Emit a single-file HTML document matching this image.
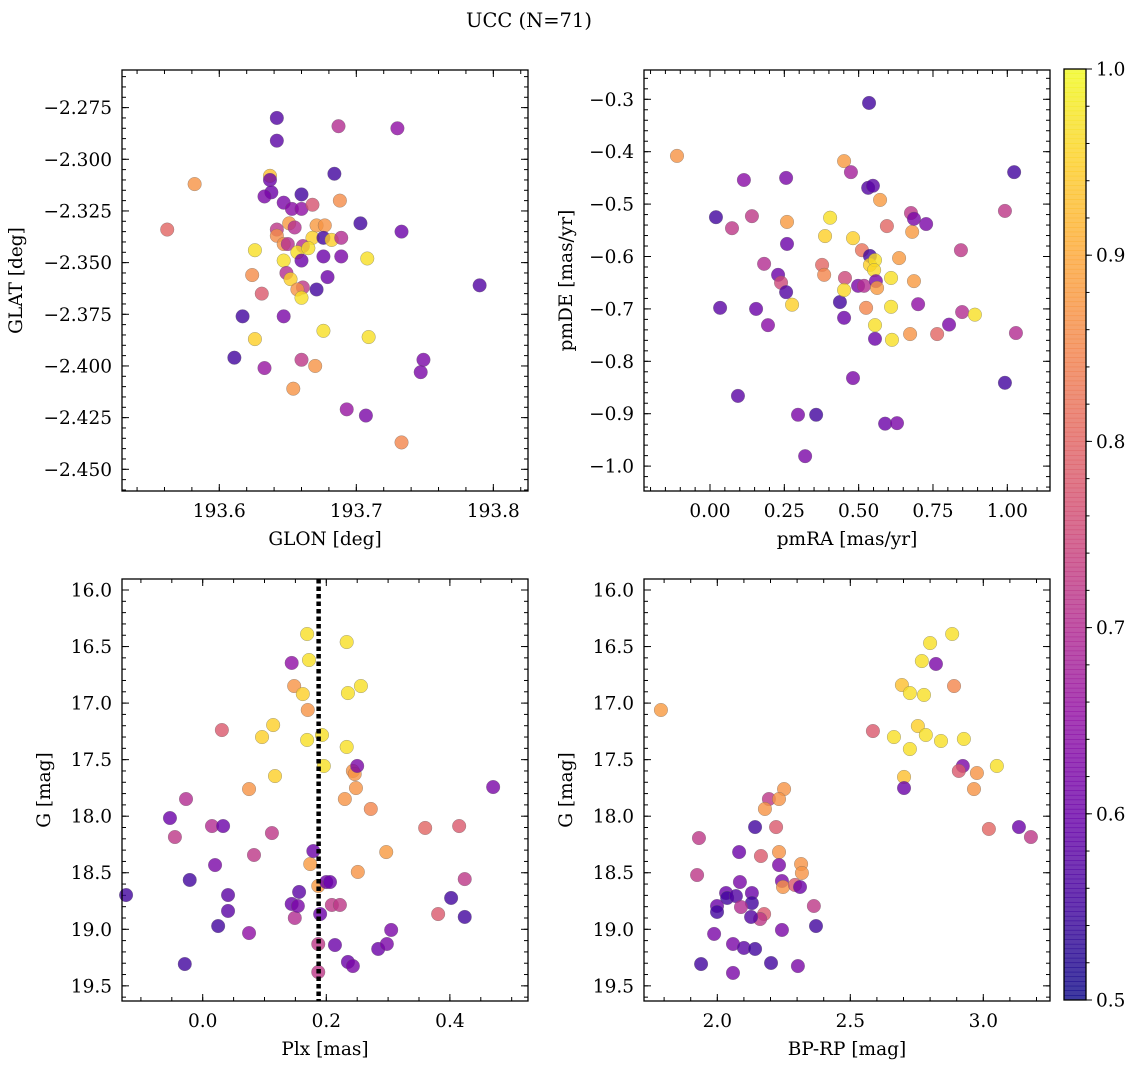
<!DOCTYPE html>
<html><head><meta charset="utf-8">
<style>
html,body{margin:0;padding:0;background:#fff;}
svg{display:block;font-family:"DejaVu Serif","Liberation Serif",serif;}
</style></head>
<body>
<svg id="fig" width="1136" height="1068" viewBox="0 0 1136 1068" xmlns="http://www.w3.org/2000/svg">
<rect x="0" y="0" width="1136" height="1068" fill="#fff"/>
<text x="529" y="27" font-size="19.5" text-anchor="middle">UCC (N=71)</text>
</svg>
<script>
// ---- Panel 1: GLON vs GLAT ----
const p1Lon=[193.637,193.637,193.684,193.638,193.633,193.660,193.647,193.653,193.660,193.668,193.688,193.703,193.651,193.655,193.671,193.677,193.642,193.642,193.647,193.650,193.668,193.676,193.682,193.689,193.626,193.661,193.657,193.665,193.660,193.676,193.689,193.708,193.647,193.649,193.652,193.624,193.679,193.661,193.657,193.660,193.671,193.631,193.617,193.647,193.562,193.582,193.642,193.642,193.687,193.730,193.733,193.676,193.626,193.709,193.611,193.660,193.670,193.633,193.654,193.749,193.747,193.790,193.693,193.707,193.733];
const p1Lat=[-2.308,-2.310,-2.307,-2.316,-2.318,-2.317,-2.321,-2.324,-2.324,-2.322,-2.320,-2.331,-2.331,-2.333,-2.332,-2.332,-2.334,-2.337,-2.341,-2.341,-2.338,-2.338,-2.339,-2.338,-2.344,-2.342,-2.345,-2.343,-2.349,-2.347,-2.347,-2.348,-2.349,-2.355,-2.358,-2.356,-2.357,-2.362,-2.363,-2.367,-2.363,-2.365,-2.376,-2.376,-2.334,-2.312,-2.280,-2.291,-2.284,-2.285,-2.335,-2.383,-2.387,-2.386,-2.396,-2.397,-2.400,-2.401,-2.411,-2.397,-2.403,-2.361,-2.421,-2.424,-2.437];
const p1Prob=[0.93,0.60,0.55,0.60,0.62,0.55,0.62,0.64,0.65,0.77,0.86,0.55,0.88,0.70,0.88,0.87,0.72,0.86,0.87,0.70,0.95,0.55,0.95,0.70,0.97,0.70,0.97,0.97,0.60,0.60,0.62,0.97,0.97,0.70,0.95,0.86,0.60,0.72,0.87,0.97,0.55,0.78,0.55,0.62,0.80,0.87,0.57,0.58,0.70,0.65,0.60,0.97,0.95,0.97,0.55,0.72,0.87,0.66,0.87,0.62,0.62,0.57,0.66,0.62,0.85];
const p1XTicks=[193.6,193.7,193.8];
const p1XTickLabels=["193.6","193.7","193.8"];
const p1YTicks=[-2.275,-2.300,-2.325,-2.350,-2.375,-2.400,-2.425,-2.450];
const p1YTickLabels=["\u22122.275","\u22122.300","\u22122.325","\u22122.350","\u22122.375","\u22122.400","\u22122.425","\u22122.450"];

// ---- Panel 2: pmRA vs pmDE ----
const p2PmRA=[-0.111,0.020,0.034,0.074,0.114,0.141,0.155,0.182,0.195,0.094,0.229,0.239,0.256,0.259,0.259,0.256,0.276,0.296,0.320,0.357,0.377,0.384,0.387,0.404,0.437,0.451,0.454,0.451,0.451,0.474,0.481,0.481,0.498,0.511,0.518,0.525,0.532,0.538,0.548,0.535,0.538,0.555,0.552,0.558,0.562,0.555,0.555,0.572,0.589,0.595,0.609,0.609,0.612,0.636,0.629,0.673,0.676,0.680,0.686,0.686,0.700,0.727,0.764,0.804,0.844,0.848,0.891,0.992,0.992,1.023,1.029];
const p2PmDE=[-0.408,-0.525,-0.698,-0.546,-0.454,-0.523,-0.700,-0.614,-0.731,-0.866,-0.635,-0.650,-0.450,-0.534,-0.576,-0.668,-0.692,-0.902,-0.981,-0.902,-0.616,-0.635,-0.561,-0.526,-0.687,-0.717,-0.641,-0.664,-0.418,-0.439,-0.565,-0.832,-0.656,-0.588,-0.656,-0.698,-0.469,-0.599,-0.465,-0.307,-0.616,-0.607,-0.626,-0.647,-0.660,-0.731,-0.757,-0.492,-0.919,-0.542,-0.696,-0.641,-0.759,-0.603,-0.918,-0.748,-0.517,-0.553,-0.647,-0.528,-0.691,-0.538,-0.748,-0.730,-0.588,-0.706,-0.711,-0.513,-0.841,-0.439,-0.746];
const p2Prob=[0.87,0.55,0.58,0.72,0.64,0.72,0.60,0.70,0.64,0.58,0.60,0.75,0.62,0.88,0.60,0.57,0.95,0.62,0.62,0.55,0.80,0.85,0.95,0.97,0.55,0.60,0.75,0.96,0.88,0.68,0.95,0.62,0.62,0.82,0.70,0.85,0.57,0.55,0.58,0.55,0.95,0.97,0.96,0.62,0.88,0.97,0.60,0.88,0.60,0.80,0.97,0.97,0.97,0.88,0.62,0.87,0.72,0.88,0.88,0.62,0.65,0.62,0.80,0.62,0.72,0.70,0.97,0.72,0.55,0.55,0.70];
const p2XTicks=[0,0.25,0.5,0.75,1.0];
const p2XTickLabels=["0.00","0.25","0.50","0.75","1.00"];
const p2YTicks=[-0.3,-0.4,-0.5,-0.6,-0.7,-0.8,-0.9,-1.0];
const p2YTickLabels=["\u22120.3","\u22120.4","\u22120.5","\u22120.6","\u22120.7","\u22120.8","\u22120.9","\u22121.0"];

// ---- Panel 3: Plx vs G ----
const p3Plx=[-0.124,-0.053,-0.045,-0.027,-0.021,-0.029,0.015,0.020,0.025,0.031,0.033,0.041,0.041,0.075,0.075,0.083,0.096,0.112,0.114,0.117,0.144,0.148,0.144,0.149,0.156,0.154,0.162,0.169,0.172,0.170,0.169,0.174,0.179,0.187,0.190,0.187,0.193,0.196,0.200,0.206,0.209,0.214,0.222,0.230,0.233,0.235,0.233,0.235,0.243,0.243,0.246,0.248,0.250,0.251,0.256,0.272,0.284,0.298,0.297,0.305,0.360,0.381,0.402,0.415,0.424,0.424,0.470,0.187];
const p3G=[18.697,18.016,18.184,17.848,18.564,19.307,18.087,18.432,18.971,17.238,18.087,18.697,18.838,17.760,19.033,18.343,17.300,18.149,17.194,17.645,16.645,16.849,18.776,18.900,18.670,18.794,16.920,16.389,16.619,17.061,17.326,18.423,18.308,18.617,18.865,19.130,17.282,17.556,18.582,18.582,18.785,19.139,18.785,17.848,16.460,16.911,17.388,19.289,19.325,17.600,17.627,17.751,17.556,18.493,16.849,17.936,19.174,19.130,18.317,19.006,18.104,18.865,18.723,18.087,18.556,18.891,17.742,19.378];
const p3Prob=[0.55,0.60,0.72,0.70,0.55,0.55,0.70,0.62,0.55,0.78,0.60,0.58,0.58,0.87,0.65,0.72,0.95,0.72,0.95,0.95,0.65,0.87,0.60,0.70,0.58,0.62,0.95,0.97,0.97,0.87,0.97,0.88,0.60,0.88,0.60,0.72,0.97,0.97,0.60,0.60,0.72,0.60,0.72,0.87,0.97,0.97,0.97,0.60,0.62,0.87,0.87,0.87,0.62,0.87,0.97,0.85,0.60,0.62,0.88,0.62,0.80,0.78,0.55,0.78,0.72,0.55,0.62,0.72];
const p3PlxLine=[0.1876];
const p3XTicks=[0,0.2,0.4];
const p3XTickLabels=["0.0","0.2","0.4"];
const gYTicks=[16.0,16.5,17.0,17.5,18.0,18.5,19.0,19.5];
const gYTickLabels=["16.0","16.5","17.0","17.5","18.0","18.5","19.0","19.5"];

// ---- Panel 4: BP-RP vs G ----
const p4BpRp=[1.788,2.251,2.194,2.232,2.179,2.142,2.221,1.931,2.082,2.164,2.232,2.232,2.315,2.318,1.924,2.085,2.243,2.247,2.292,2.311,2.033,2.037,2.070,2.130,2.130,2.089,1.999,1.999,2.176,2.161,2.127,2.363,2.371,2.243,1.988,2.059,2.100,2.142,1.939,2.202,2.303,2.059,2.883,2.800,2.769,2.822,2.694,2.724,2.777,2.890,2.585,2.664,2.754,2.784,2.841,2.927,2.724,2.702,2.702,2.923,2.908,2.976,3.051,2.965,3.021,3.134,3.179];
const p4G=[17.061,17.760,17.848,17.848,17.936,18.096,18.096,18.193,18.317,18.352,18.317,18.432,18.423,18.502,18.520,18.582,18.573,18.626,18.608,18.626,18.679,18.723,18.706,18.679,18.768,18.803,18.794,18.847,18.865,18.909,18.891,18.794,18.971,19.006,19.041,19.130,19.165,19.174,19.307,19.298,19.325,19.386,16.389,16.469,16.628,16.654,16.840,16.911,16.928,16.849,17.247,17.300,17.203,17.282,17.335,17.317,17.406,17.653,17.751,17.556,17.600,17.618,17.556,17.760,18.113,18.096,18.184];
const p4Prob=[0.88,0.87,0.72,0.87,0.87,0.55,0.78,0.72,0.60,0.78,0.87,0.62,0.87,0.87,0.72,0.62,0.62,0.87,0.78,0.60,0.60,0.55,0.57,0.60,0.55,0.70,0.60,0.55,0.78,0.72,0.57,0.72,0.55,0.62,0.62,0.62,0.58,0.55,0.55,0.55,0.62,0.62,0.97,0.97,0.97,0.62,0.93,0.97,0.97,0.85,0.78,0.97,0.95,0.97,0.97,0.97,0.97,0.93,0.60,0.62,0.78,0.87,0.97,0.87,0.80,0.60,0.72];
const p4XTicks=[2.0,2.5,3.0];
const p4XTickLabels=["2.0","2.5","3.0"];

// ---- Colorbar ----
const cbTicks=[0.5,0.6,0.7,0.8,0.9,1.0];
const cbTickLabels=["0.5","0.6","0.7","0.8","0.9","1.0"];
const cbRange=[0.5,1.0];

const NS="http://www.w3.org/2000/svg";
const svg=document.getElementById('fig');
const FS=18.5;
function mk(tag,attrs,parent){const e=document.createElementNS(NS,tag);for(const k in attrs)e.setAttribute(k,attrs[k]);(parent||svg).appendChild(e);return e;}
function lin(d0,d1,r0,r1){return v=>r0+(v-d0)/(d1-d0)*(r1-r0);}

const plasmaStops=["#0d0887","#41049d","#6a00a8","#8f0da4","#b12a90","#cc4778","#e16462","#f2844b","#fca636","#fcce25","#f0f921"];
function hex(h){return [parseInt(h.slice(1,3),16),parseInt(h.slice(3,5),16),parseInt(h.slice(5,7),16)];}
function plasma(t){t=Math.max(0,Math.min(1,t));const s=t*10;const i=Math.min(9,Math.floor(s));const f=s-i;const a=hex(plasmaStops[i]),b=hex(plasmaStops[i+1]);return "rgb("+a.map((v,k)=>Math.round(v+(b[k]-v)*f)).join(",")+")";}
function cnorm(p){return (p-cbRange[0])/(cbRange[1]-cbRange[0]);}

function axes(name,box,xd,yd,xt,xtl,xminor,yt,ytl,yminor,xlabel,ylabel,ylabelX){
  const g=mk('g',{});
  
  
  const sx=lin(xd[0],xd[1],box.x0,box.x1), sy=lin(yd[0],yd[1],box.y0,box.y1);
  const ticks=mk('g',{stroke:'#000','stroke-width':1},g);
  
  
  function tx(v,len){const x=sx(v);mk('line',{x1:x,x2:x,y1:box.y1,y2:box.y1-len},ticks);mk('line',{x1:x,x2:x,y1:box.y0,y2:box.y0+len},ticks);}
  function ty(v,len){const y=sy(v);mk('line',{x1:box.x0,x2:box.x0+len,y1:y,y2:y},ticks);mk('line',{x1:box.x1,x2:box.x1-len,y1:y,y2:y},ticks);}
  const xlo=Math.min(xd[0],xd[1]),xhi=Math.max(xd[0],xd[1]),ylo=Math.min(yd[0],yd[1]),yhi=Math.max(yd[0],yd[1]);
  for(let k=Math.ceil(xlo/xminor-1e-6);k*xminor<=xhi+1e-9;k++){tx(k*xminor,4);}
  for(let k=Math.ceil(ylo/yminor-1e-6);k*yminor<=yhi+1e-9;k++){ty(k*yminor,4);}
  xt.forEach((v,i)=>{tx(v,7);const t=mk('text',{x:sx(v),y:box.y1+26,'font-size':FS,'text-anchor':'middle'},g);t.textContent=xtl[i];
    
    });
  yt.forEach((v,i)=>{ty(v,7);const t=mk('text',{x:box.x0-10,y:sy(v)+6.5,'font-size':FS,'text-anchor':'end'},g);t.textContent=ytl[i];
    
    });
  const xl=mk('text',{x:(box.x0+box.x1)/2,y:box.y1+54,'font-size':FS,'text-anchor':'middle'},g);xl.textContent=xlabel;
  
  
  const cy=(box.y0+box.y1)/2;
  const yl=mk('text',{x:ylabelX,y:cy,'font-size':FS,'text-anchor':'middle',transform:'rotate(-90 '+ylabelX+' '+cy+')'},g);yl.textContent=ylabel;
  
  
  return {g,sx,sy};
}
function frame(g,box){const r=mk('rect',{x:box.x0,y:box.y0,width:box.x1-box.x0,height:box.y1-box.y0,fill:'none',stroke:'#000','stroke-width':1.3},g);
  
  }
function scatter(ax,xs,ys,ps,label){
  const grp=mk('g',{},ax.g);
  
  
  xs.forEach((v,i)=>{const c=mk('circle',{cx:ax.sx(v),cy:ax.sy(ys[i]),r:6.8,fill:plasma(cnorm(ps[i])),'fill-opacity':0.8,stroke:'#666','stroke-width':0.5,'stroke-opacity':0.6},grp);
    
    });
}

const b1={x0:122,x1:528,y0:70,y1:491};
const a1=axes('panel-glon-glat',b1,[193.5290,193.8253],[-2.2568,-2.4605],p1XTicks,p1XTickLabels,0.02,p1YTicks,p1YTickLabels,0.005,'GLON [deg]','GLAT [deg]',22);
scatter(a1,p1Lon,p1Lat,p1Prob,'glon-glat-points');frame(a1.g,b1);

const b2={x0:644,x1:1050,y0:70,y1:491};
const a2=axes('panel-pm',b2,[-0.2220,1.1436],[-0.2441,-1.0475],p2XTicks,p2XTickLabels,0.05,p2YTicks,p2YTickLabels,0.02,'pmRA [mas/yr]','pmDE [mas/yr]',572);
scatter(a2,p2PmRA,p2PmDE,p2Prob,'pm-points');frame(a2.g,b2);

const b3={x0:122,x1:528,y0:579,y1:1001};
const a3=axes('panel-plx-g',b3,[-0.1306,0.5264],[15.9027,19.634],p3XTicks,p3XTickLabels,0.05,gYTicks,gYTickLabels,0.1,'Plx [mas]','G [mag]',50);
scatter(a3,p3Plx,p3G,p3Prob,'plx-g-points');
p3PlxLine.forEach(v=>{const l=mk('line',{x1:a3.sx(v),x2:a3.sx(v),y1:b3.y0,y2:b3.y1,stroke:'#000','stroke-width':4.5,'stroke-dasharray':'4.5 3'},a3.g);
  
  });
frame(a3.g,b3);

const b4={x0:644,x1:1050,y0:579,y1:1001};
const a4=axes('panel-cmd',b4,[1.7244,3.2508],[15.9027,19.634],p4XTicks,p4XTickLabels,0.1,gYTicks,gYTickLabels,0.1,'BP-RP [mag]','G [mag]',572);
scatter(a4,p4BpRp,p4G,p4Prob,'cmd-points');frame(a4.g,b4);

// colorbar
const cb={x0:1064,x1:1086,y0:69,y1:1000};
const cbg=mk('g',{});


const cs=lin(cbRange[0],cbRange[1],cb.y1,cb.y0);
const N=200;
for(let i=0;i<N;i++){const v0=cbRange[0]+(cbRange[1]-cbRange[0])*i/N,v1=cbRange[0]+(cbRange[1]-cbRange[0])*(i+1)/N;
  mk('rect',{x:cb.x0,y:cs(v1)-0.3,width:cb.x1-cb.x0,height:cs(v0)-cs(v1)+0.6,fill:plasma(cnorm((v0+v1)/2)),'fill-opacity':0.8},cbg);}
for(let k=0;k<=25;k++){const v=cbRange[0]+k*0.02;const y=cs(v);mk('line',{x1:cb.x1,x2:cb.x1+3.5,y1:y,y2:y,stroke:'#000','stroke-width':1},cbg);}
cbTicks.forEach((v,i)=>{const y=cs(v);mk('line',{x1:cb.x1,x2:cb.x1+6,y1:y,y2:y,stroke:'#000','stroke-width':1},cbg);
  const t=mk('text',{x:cb.x1+10,y:y+6.5,'font-size':FS},cbg);t.textContent=cbTickLabels[i];
  
  });
mk('rect',{x:cb.x0,y:cb.y0,width:cb.x1-cb.x0,height:cb.y1-cb.y0,fill:'none',stroke:'#000','stroke-width':1.3},cbg);
</script>
</body></html>
